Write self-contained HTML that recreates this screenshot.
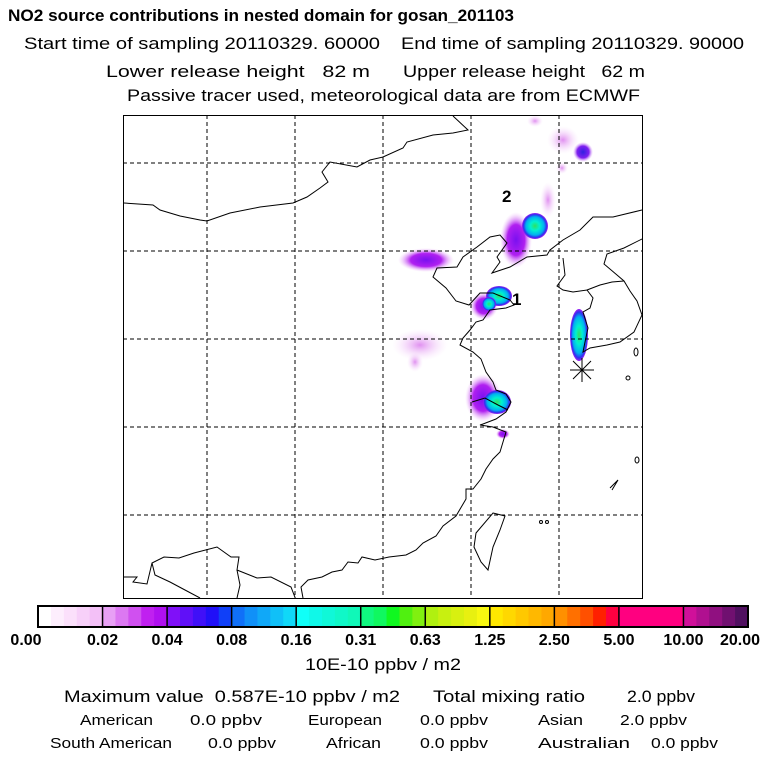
<!DOCTYPE html>
<html><head><meta charset="utf-8"><style>
body{margin:0;background:#fff;width:768px;height:768px;overflow:hidden;font-family:"Liberation Sans",sans-serif}
svg text{font-family:"Liberation Sans",sans-serif}
</style></head><body>
<svg id="chart" width="768" height="768" viewBox="0 0 768 768" xmlns="http://www.w3.org/2000/svg">
<defs>
<radialGradient id="gPurple"><stop offset="0" stop-color="#7a10f0"/><stop offset="0.55" stop-color="#b020f0"/><stop offset="1" stop-color="#f0c0f8" stop-opacity="0"/></radialGradient>
<radialGradient id="gPink"><stop offset="0" stop-color="#e090f0"/><stop offset="1" stop-color="#f8e0fc" stop-opacity="0"/></radialGradient>
<radialGradient id="gCyan"><stop offset="0" stop-color="#30e060"/><stop offset="0.35" stop-color="#00f0d0"/><stop offset="0.7" stop-color="#00b0f0"/><stop offset="0.88" stop-color="#3030f0"/><stop offset="1" stop-color="#a020f0"/></radialGradient>
<radialGradient id="gBlue"><stop offset="0" stop-color="#3020e0"/><stop offset="0.6" stop-color="#8020f0"/><stop offset="1" stop-color="#e0a0f8" stop-opacity="0"/></radialGradient>
<clipPath id="mapclip"><rect x="123" y="115" width="519" height="483"/></clipPath>
</defs>
<text x="8" y="21" font-size="17" font-weight="bold" textLength="506" lengthAdjust="spacingAndGlyphs">NO2 source contributions in nested domain for gosan_201103</text>
<text font-size="17"><tspan x="24" y="49" textLength="356" lengthAdjust="spacingAndGlyphs">Start time of sampling 20110329. 60000</tspan><tspan x="401" y="49" textLength="343" lengthAdjust="spacingAndGlyphs">End time of sampling 20110329. 90000</tspan></text>
<text font-size="17"><tspan x="106" y="77" textLength="264" lengthAdjust="spacingAndGlyphs">Lower release height&#160;&#160; 82 m</tspan><tspan x="403" y="77" textLength="242" lengthAdjust="spacingAndGlyphs">Upper release height&#160;&#160; 62 m</tspan></text>
<text x="127" y="101" font-size="17" textLength="513" lengthAdjust="spacingAndGlyphs">Passive tracer used, meteorological data are from ECMWF</text>

<g clip-path="url(#mapclip)">
 <g>
  <ellipse cx="535" cy="121" rx="8" ry="6" fill="url(#gPink)"/>
  <ellipse cx="563" cy="140" rx="16" ry="14" fill="url(#gPink)"/>
  <ellipse cx="548" cy="200" rx="8" ry="18" fill="url(#gPink)"/>
  <ellipse cx="562" cy="168" rx="6" ry="6" fill="url(#gPink)"/>
  <ellipse cx="583" cy="152" rx="10" ry="10" fill="url(#gBlue)"/>
  <ellipse cx="426" cy="260" rx="28" ry="12" fill="url(#gPurple)"/>
  <ellipse cx="420" cy="345" rx="28" ry="16" fill="url(#gPink)"/>
  <ellipse cx="415" cy="362" rx="8" ry="10" fill="url(#gPink)"/>
  <ellipse cx="516" cy="240" rx="16" ry="28" fill="url(#gPurple)"/>
  <ellipse cx="535" cy="226" rx="13" ry="13" fill="url(#gCyan)"/>
  <ellipse cx="484" cy="306" rx="14" ry="14" fill="url(#gPurple)"/>
  <ellipse cx="499" cy="296" rx="13" ry="10" fill="url(#gCyan)"/>
  <ellipse cx="489" cy="304" rx="7" ry="7" fill="url(#gCyan)"/>
  <ellipse cx="483" cy="398" rx="18" ry="24" fill="url(#gPurple)"/>
  <ellipse cx="497" cy="402" rx="14" ry="12" fill="url(#gCyan)"/>
  <ellipse cx="503" cy="434" rx="7" ry="5" fill="url(#gPurple)"/>
  <ellipse cx="579" cy="335" rx="9" ry="26" fill="url(#gCyan)"/>
 </g>
 <g stroke="#000" stroke-width="1" stroke-dasharray="4,3">
  <line x1="207" y1="115" x2="207" y2="598"/><line x1="295" y1="115" x2="295" y2="598"/><line x1="383" y1="115" x2="383" y2="598"/><line x1="471" y1="115" x2="471" y2="598"/><line x1="559" y1="115" x2="559" y2="598"/>
  <line x1="123" y1="163" x2="642" y2="163"/><line x1="123" y1="251" x2="642" y2="251"/><line x1="123" y1="339" x2="642" y2="339"/><line x1="123" y1="427" x2="642" y2="427"/><line x1="123" y1="515" x2="642" y2="515"/>
 </g>
 <g fill="none" stroke="#000" stroke-width="1">
  <polyline points="124,203 153,205 160,210 180,216 200,220 207,221 230,213 260,207 293,203 307,197 320,188 328,182 322,172 330,162 357,167 370,160 383,157 403,148 407,142 433,135 453,133 468,130 453,116"/>
  <polyline points="642,210 613,217 593,217 580,230 563,240 550,250 547,255 527,257 510,267 492,273 500,262 497,257 507,243 500,235 490,237 477,247 463,257 457,267 437,268 433,277 446,288 456,301 469,305 480,293 493,293 510,300 514,305 506,308 490,310 483,320 476,322 470,330 463,338 460,345 473,352 481,359 486,372 493,382 496,390 506,394 511,402 506,412 496,419 483,424 480,425 493,427 506,432 503,442 500,452 493,459 486,469 481,479 473,489 466,489 466,499 456,516 443,526 436,536 423,543 416,550 406,555 389,557 375,560 362,557 358,563 348,562 342,570 332,572 322,577 308,580 301,587 303,598"/>
  <polyline points="124,577 137,577 133,582 147,584 152,563 164,557 179,558 194,553 217,547 231,557 239,557 237,570 257,578 271,577 291,587 296,600"/>
  <polyline points="152,563 155,575 170,582 185,590 200,598"/>
  <polyline points="237,570 240,585 237,598"/>
  <polyline points="563,258 565,275 557,286 563,290 573,292 587,290 593,298 590,308 583,312 588,328 585,342 583,352 590,348 607,345 620,342 634,332 642,315"/>
  <polyline points="644,238 624,248 607,254 604,264 617,275 624,281 630,291 637,301 642,315"/>
  <polyline points="587,290 600,285 612,282 624,281"/>
  <polygon points="493,513 505,516 500,530 493,547 488,570 481,562 474,547 476,533"/>
  <polyline points="472,402 485,398 498,405 508,410"/>
  <ellipse cx="636" cy="352" rx="2" ry="4"/><ellipse cx="628" cy="378" rx="2" ry="2"/><ellipse cx="637" cy="460" rx="2" ry="3"/><ellipse cx="541" cy="522" rx="1.5" ry="1.5"/><ellipse cx="547" cy="522" rx="1.5" ry="1.5"/><polyline points="610,488 618,480 612,490"/>
 </g>
 <g stroke="#000" stroke-width="1">
  <line x1="570" y1="370" x2="594" y2="370"/><line x1="582" y1="358" x2="582" y2="382"/><line x1="573" y1="361" x2="591" y2="379"/><line x1="573" y1="379" x2="591" y2="361"/>
 </g>
 <text x="502" y="202" font-size="17" font-weight="bold">2</text>
 <text x="512" y="305" font-size="17" font-weight="bold">1</text>
</g>
<rect x="123.5" y="115.5" width="519" height="483" fill="none" stroke="#000" stroke-width="1"/>

<g id="colorbar"></g>
<text x="305" y="670" font-size="17" textLength="156" lengthAdjust="spacingAndGlyphs">10E-10 ppbv / m2</text>
<text font-size="17"><tspan x="64" y="702" textLength="336" lengthAdjust="spacingAndGlyphs">Maximum value&#160; 0.587E-10 ppbv / m2</tspan><tspan x="433" y="702" textLength="152" lengthAdjust="spacingAndGlyphs">Total mixing ratio</tspan><tspan x="627" y="702" textLength="68" lengthAdjust="spacingAndGlyphs">2.0 ppbv</tspan></text>
<text font-size="15"><tspan x="80" y="725" textLength="73" lengthAdjust="spacingAndGlyphs">American</tspan><tspan x="190" y="725" textLength="72" lengthAdjust="spacingAndGlyphs">0.0 ppbv</tspan><tspan x="308" y="725" textLength="74" lengthAdjust="spacingAndGlyphs">European</tspan><tspan x="420" y="725" textLength="68" lengthAdjust="spacingAndGlyphs">0.0 ppbv</tspan><tspan x="538" y="725" textLength="45" lengthAdjust="spacingAndGlyphs">Asian</tspan><tspan x="620" y="725" textLength="67" lengthAdjust="spacingAndGlyphs">2.0 ppbv</tspan></text>
<text font-size="15"><tspan x="50" y="748" textLength="122" lengthAdjust="spacingAndGlyphs">South American</tspan><tspan x="208" y="748" textLength="68" lengthAdjust="spacingAndGlyphs">0.0 ppbv</tspan><tspan x="326" y="748" textLength="55" lengthAdjust="spacingAndGlyphs">African</tspan><tspan x="420" y="748" textLength="68" lengthAdjust="spacingAndGlyphs">0.0 ppbv</tspan><tspan x="538" y="748" textLength="92" lengthAdjust="spacingAndGlyphs">Australian</tspan><tspan x="651" y="748" textLength="67" lengthAdjust="spacingAndGlyphs">0.0 ppbv</tspan></text>
</svg>
<script>
const levelLabels = ["0.00","0.02","0.04","0.08","0.16","0.31","0.63","1.25","2.50","5.00","10.00","20.00"];
const segmentColors = [
 ["#ffffff","#fdeefd","#fbe0fb","#f7d0f9","#f3c0f7"],
 ["#e8a0f5","#dc78f2","#d050f0","#c020f0","#b010f0"],
 ["#8010f8","#6010f8","#4010f8","#2010f8","#1040f8"],
 ["#1070f8","#1090f8","#10a8f8","#10c0f8","#10d8f8"],
 ["#10fff8","#10f8e8","#10f8d8","#10f8c8","#10f8b8"],
 ["#10f880","#10f860","#10f820","#50f010","#80f010"],
 ["#b0f010","#c8f010","#d8f010","#e8f010","#f8f810"],
 ["#ffe800","#ffd800","#ffc800","#ffb800","#ffa800"],
 ["#ff9000","#ff7000","#ff5000","#ff2000","#ff0040"],
 ["#ff0080","#ff0080","#ff0080","#ff0080","#ff0080"],
 ["#d0109a","#b01090","#901080","#701070","#501060"]
];
const svg = document.getElementById('chart');
const cb = document.getElementById('colorbar');
const NS = 'http://www.w3.org/2000/svg';
const x0 = 38, x1 = 748, y0 = 606, h = 21;
const segW = (x1 - x0) / segmentColors.length;
function segX(i){ return x0 + i * segW; }
segmentColors.forEach((cols, i) => {
  cols.forEach((c, j) => {
    const r = document.createElementNS(NS, 'rect');
    
    
    const w = segW / cols.length;
    r.setAttribute('x', segX(i) + j * w);
    r.setAttribute('y', y0);
    r.setAttribute('width', w + 0.5);
    r.setAttribute('height', h);
    r.setAttribute('fill', c);
    cb.appendChild(r);
  });
});
for (let i = 1; i < segmentColors.length; i++) {
  const l = document.createElementNS(NS, 'line');
  
  
  l.setAttribute('x1', segX(i)); l.setAttribute('x2', segX(i));
  l.setAttribute('y1', y0); l.setAttribute('y2', y0 + h);
  l.setAttribute('stroke', '#000'); l.setAttribute('stroke-width', '1.5');
  cb.appendChild(l);
}
const frame = document.createElementNS(NS, 'rect');


frame.setAttribute('x', x0); frame.setAttribute('y', y0);
frame.setAttribute('width', x1 - x0); frame.setAttribute('height', h);
frame.setAttribute('fill', 'none'); frame.setAttribute('stroke', '#000'); frame.setAttribute('stroke-width', '2');
cb.appendChild(frame);
levelLabels.forEach((lab, i) => {
  const t = document.createElementNS(NS, 'text');
  
  
  let x = segX(i);
  let anchor = 'middle';
  if (i === levelLabels.length - 1) { anchor = 'end'; x = 760; }
  if (i === 0) { x = 26; }
  t.setAttribute('x', x);
  t.setAttribute('y', 645);
  t.setAttribute('text-anchor', anchor);
  t.setAttribute('font-size', '16');
  t.setAttribute('font-weight', 'bold');
  t.textContent = lab;
  cb.appendChild(t);
});
</script>
</body></html>
